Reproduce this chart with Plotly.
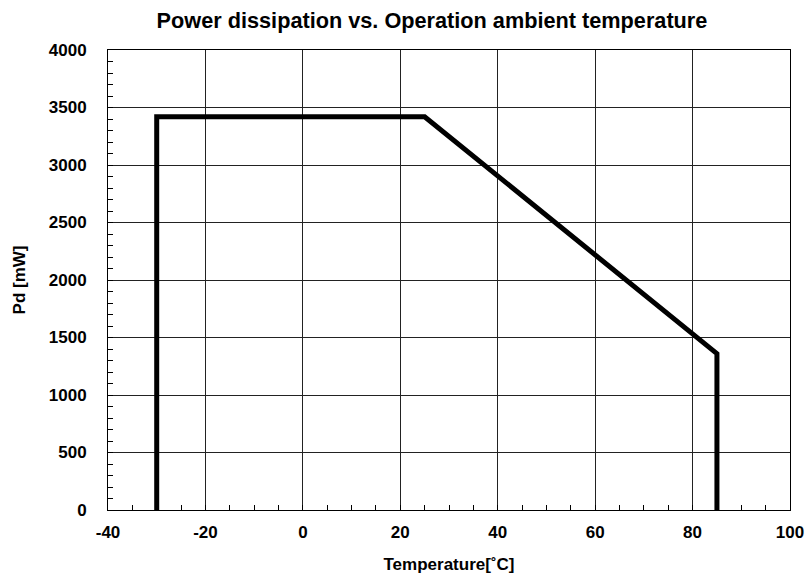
import plotly.graph_objects as go

temperature = [-30, -30, 25, 85, 85]
pd_mw = [0, 3420, 3420, 1360, 0]

x_tickvals = [-40, -20, 0, 20, 40, 60, 80, 100]
x_ticktext = ["-40", "-20", "0", "20", "40", "60", "80", "100"]
y_tickvals = [0, 500, 1000, 1500, 2000, 2500, 3000, 3500, 4000]
y_ticktext = ["0", "500", "1000", "1500", "2000", "2500", "3000", "3500", "4000"]

x_range = [-40, 100]
y_range = [0, 4000]

font = "Liberation Sans, Arial, sans-serif"

fig = go.Figure()
fig.add_trace(go.Scatter(x=temperature, y=pd_mw, mode="lines",
                         line=dict(color="black", width=5), showlegend=False,
                         cliponaxis=False))

fig.update_layout(
    width=805, height=574,
    margin=dict(l=108, r=15, t=50, b=64, autoexpand=False),
    paper_bgcolor="white", plot_bgcolor="white",
    font=dict(family=font, color="black"),
    title=dict(text="Power dissipation vs. Operation ambient temperature",
               x=432 / 805, xanchor="center", y=1 - 20 / 574, yanchor="middle",
               font=dict(size=21.7, family=font, color="black", weight="bold")),
)
fig.update_xaxes(
    range=x_range, tickmode="array", tickvals=x_tickvals, ticktext=x_ticktext,
    showgrid=True, gridcolor="#222222", gridwidth=1,
    showline=True, linecolor="black", linewidth=1, mirror=True,
    ticks="inside", ticklen=5, tickcolor="black", tickwidth=1,
    minor=dict(dtick=5, tick0=0, ticks="inside", ticklen=5, tickcolor="black", showgrid=False),
    tickfont=dict(size=17, family=font, color="black", weight="bold"),
    ticklabelstandoff=7,
    zeroline=False, automargin=False,
    title=dict(text="Temperature[˚C]", font=dict(size=17, family=font, weight="bold"), standoff=17),
)
fig.update_yaxes(
    range=y_range, tickmode="array", tickvals=y_tickvals, ticktext=y_ticktext,
    showgrid=True, gridcolor="#222222", gridwidth=1,
    showline=True, linecolor="black", linewidth=1, mirror=True,
    ticks="inside", ticklen=5, tickcolor="black", tickwidth=1,
    minor=dict(dtick=100, tick0=0, ticks="inside", ticklen=5, tickcolor="black", showgrid=False),
    tickfont=dict(size=17, family=font, color="black", weight="bold"),
    ticklabelstandoff=17,
    zeroline=False, automargin=False,
    title=dict(text="Pd [mW]", font=dict(size=17, family=font, weight="bold"), standoff=18),
)

fig.write_html("out.html", config={"displayModeBar": False},
               post_script="document.body.style.margin='0px';")
